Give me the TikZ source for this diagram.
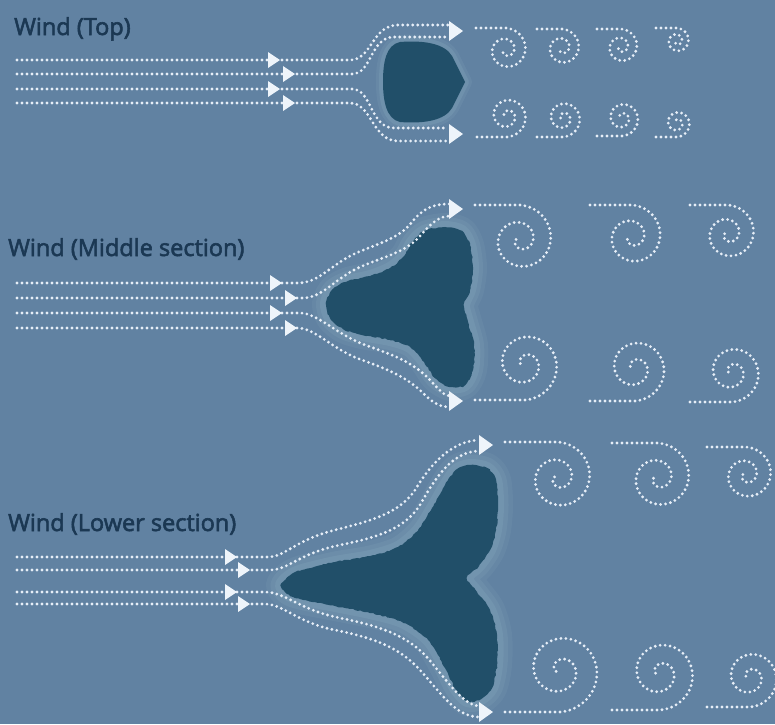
\documentclass[tikz,border=0pt]{standalone}
\usepackage{fontspec}
\setmainfont{Open Sans}
\newfontfamily\tagfont{Open Sans}[FakeBold=2.4]
\usetikzlibrary{decorations.pathmorphing}

\definecolor{sky}{HTML}{6182A2}
\definecolor{hub}{HTML}{214F69}
\definecolor{halo}{HTML}{7A9DB5}
\definecolor{dotc}{HTML}{E6EEF7}
\definecolor{headc}{HTML}{EEF4FA}
\definecolor{ink}{HTML}{1B3853}

% spiral vortex, tail along the top: tail start x, centre x, centre y, radius
\newcommand\curlup[4]{%
  \draw[flow] (#1,{#3-#4}) -- (#2,{#3-#4}) --
    plot[domain=0:650, samples=150, variable=\t]
      ({#2+#4*(1-\t/720)*sin(\t)}, {#3-#4*(1-\t/720)*cos(\t)});}
% spiral vortex, tail along the bottom
\newcommand\curldown[4]{%
  \draw[flow] (#1,{#3+#4}) -- (#2,{#3+#4}) --
    plot[domain=0:650, samples=150, variable=\t]
      ({#2+#4*(1-\t/720)*sin(\t)}, {#3+#4*(1-\t/720)*cos(\t)});}

\tikzset{
  flow/.style={draw=dotc, line width=3.1pt, line cap=round,
               dash pattern=on 0pt off 5pt},
  glow/.style={draw=halo, line join=round, draw opacity=#1},
  bladebody/.style={fill=hub, decorate,
               decoration={random steps, segment length=2.5pt, amplitude=0.6pt}},
  tag/.style={font=\tagfont\fontsize{23.5}{27}\selectfont, text=ink,
              anchor=base west, inner sep=0pt},
  midhead/.pic={\fill[headc] (-12,-8) -- (0,0) -- (-12,8) -- cycle;},
  endhead/.pic={\fill[headc] (-14,-10) -- (0,0) -- (-14,10) -- cycle;}
}

\begin{document}
\begin{tikzpicture}[x=1pt, y=-1pt]
\useasboundingbox (0,0) rectangle (775,724);
\fill[sky] (0,0) rectangle (775,724);
\pgfmathsetseed{7}

% ---------------- top of the tower ----------------
\node[tag] (tagtop) at (14,35) {Wind (Top)};

\foreach \w/\o in {14/0.25, 8/0.45} {
  \path[glow=\o, line width=\w pt] (400,42) .. controls (425,40) and (445,44) .. (452,56) -- (465,82)
    -- (452,108) .. controls (445,120) and (425,124) .. (400,122)
    .. controls (386,119) and (383,100) .. (383,82)
    .. controls (383,62) and (386,45) .. (400,42) -- cycle;
}
\fill[hub] (400,42) .. controls (425,40) and (445,44) .. (452,56) -- (465,82)
  -- (452,108) .. controls (445,120) and (425,124) .. (400,122)
  .. controls (386,119) and (383,100) .. (383,82)
  .. controls (383,62) and (386,45) .. (400,42) -- cycle;

\draw[flow] (17,60) -- (350,60) .. controls (372,60) and (372,25) .. (398,25) -- (448,25);
\draw[flow] (17,74) -- (352,74) .. controls (372,74) and (370,37) .. (394,37) -- (448,37);
\draw[flow] (17,89) -- (352,89) .. controls (372,89) and (370,128) .. (394,128) -- (448,128);
\draw[flow] (17,103) -- (350,103) .. controls (372,103) and (372,141) .. (398,141) -- (448,141);
\pic at (280,60) {midhead};
\pic at (295,74) {midhead};
\pic at (280,89) {midhead};
\pic at (295,103) {midhead};
\pic at (463,31) {endhead};
\pic at (463,134) {endhead};

\curlup{476}{506}{50}{22}
\curlup{537}{562}{48}{19}
\curlup{597}{621}{47}{18}
\curlup{656}{677}{41}{13}
\curldown{477}{507}{116}{21}
\curldown{537}{563}{118}{19}
\curldown{597}{622}{118}{18}
\curldown{656}{677}{123}{14}

% ---------------- middle section ----------------
\node[tag] (tagmid) at (8,256) {Wind (Middle section)};

\foreach \w/\o in {28/0.2, 20/0.3, 12/0.45} {
  \path[glow=\o, line width=\w pt] plot[smooth cycle, tension=0.5] coordinates {
    (326,303) (333,289) (348,281) (370,276) (390,268) (404,256) (412,242)
    (424,231) (445,227) (462,231) (470,245) (473,268) (470,290) (464,305)
    (468,322) (474,345) (473,370) (465,385) (450,387) (435,378) (424,362)
    (410,347) (390,340) (362,335) (343,329) (330,318)};
}
\path[bladebody] plot[smooth cycle, tension=0.5] coordinates {
  (326,303) (333,289) (348,281) (370,276) (390,268) (404,256) (412,242)
  (424,231) (445,227) (462,231) (470,245) (473,268) (470,290) (464,305)
  (468,322) (474,345) (473,370) (465,385) (450,387) (435,378) (424,362)
  (410,347) (390,340) (362,335) (343,329) (330,318)};

\draw[flow] (17,283) -- (298,283) .. controls (318,283) and (330,266) .. (352,255)
  .. controls (375,244) and (398,240) .. (412,222) .. controls (424,207) and (435,204) .. (450,204);
\draw[flow] (17,298) -- (303,298) .. controls (322,298) and (336,278) .. (358,268)
  .. controls (382,257) and (405,253) .. (420,236) .. controls (432,222) and (440,216) .. (450,216);
\draw[flow] (17,313) -- (300,313) .. controls (318,313) and (338,336) .. (368,346)
  .. controls (393,355) and (413,362) .. (430,380) .. controls (440,391) and (445,396) .. (450,396);
\draw[flow] (17,328) -- (298,328) .. controls (315,328) and (333,350) .. (362,360)
  .. controls (390,370) and (408,378) .. (424,394) .. controls (435,405) and (442,407) .. (450,407);
\pic at (282,283) {midhead};
\pic at (297,298) {midhead};
\pic at (282,313) {midhead};
\pic at (297,328) {midhead};
\pic at (463,209) {endhead};
\pic at (463,401) {endhead};

\curlup{475}{520}{240}{35}
\curlup{590}{632}{237}{32}
\curlup{690}{728}{234}{29}
\curldown{475}{525}{364}{36}
\curldown{590}{635}{368}{33}
\curldown{690}{732}{372}{30}

% ---------------- lower section ----------------
\node[tag] (taglow) at (8,531) {Wind (Lower section)};

\foreach \w/\o in {30/0.2, 21/0.3, 12/0.45} {
  \path[glow=\o, line width=\w pt] plot[smooth cycle, tension=0.5] coordinates {
    (281,585) (289,576) (302,570) (335,562) (370,556) (398,547) (418,530)
    (432,508) (445,485) (456,470) (470,465) (487,468) (496,480) (498,505)
    (496,530) (490,550) (479,566) (467,578) (477,592) (490,610) (497,635)
    (497,665) (492,688) (481,699) (467,701) (455,688) (445,668) (428,640)
    (402,622) (370,613) (335,606) (300,599) (287,594)};
}
\path[bladebody] plot[smooth cycle, tension=0.5] coordinates {
  (281,585) (289,576) (302,570) (335,562) (370,556) (398,547) (418,530)
  (432,508) (445,485) (456,470) (470,465) (487,468) (496,480) (498,505)
  (496,530) (490,550) (479,566) (467,578) (477,592) (490,610) (497,635)
  (497,665) (492,688) (481,699) (467,701) (455,688) (445,668) (428,640)
  (402,622) (370,613) (335,606) (300,599) (287,594)};

\draw[flow] (17,557) -- (268,557) .. controls (285,557) and (295,540) .. (335,530)
  .. controls (375,520) and (400,512) .. (415,490) .. controls (430,465) and (450,442) .. (478,440);
\draw[flow] (17,570) -- (270,570) .. controls (288,570) and (300,553) .. (340,545)
  .. controls (380,537) and (405,528) .. (420,505) .. controls (435,478) and (452,452) .. (478,451);
\draw[flow] (17,592) -- (265,592) .. controls (285,592) and (300,610) .. (340,618)
  .. controls (380,626) and (405,635) .. (425,655) .. controls (445,677) and (460,703) .. (478,706);
\draw[flow] (17,604) -- (265,604) .. controls (283,604) and (298,623) .. (335,630)
  .. controls (375,638) and (400,648) .. (420,670) .. controls (440,692) and (455,716) .. (478,717);
\pic at (237,557) {midhead};
\pic at (250,570) {midhead};
\pic at (237,592) {midhead};
\pic at (250,604) {midhead};
\pic at (493,445) {endhead};
\pic at (493,712) {endhead};

\curlup{505}{558}{478}{36}
\curlup{612}{658}{478}{35}
\curlup{707}{746}{475}{28}
\curldown{505}{560}{670}{42}
\curldown{612}{660}{673}{37}
\curldown{707}{750}{677}{30}
\end{tikzpicture}
\end{document}
